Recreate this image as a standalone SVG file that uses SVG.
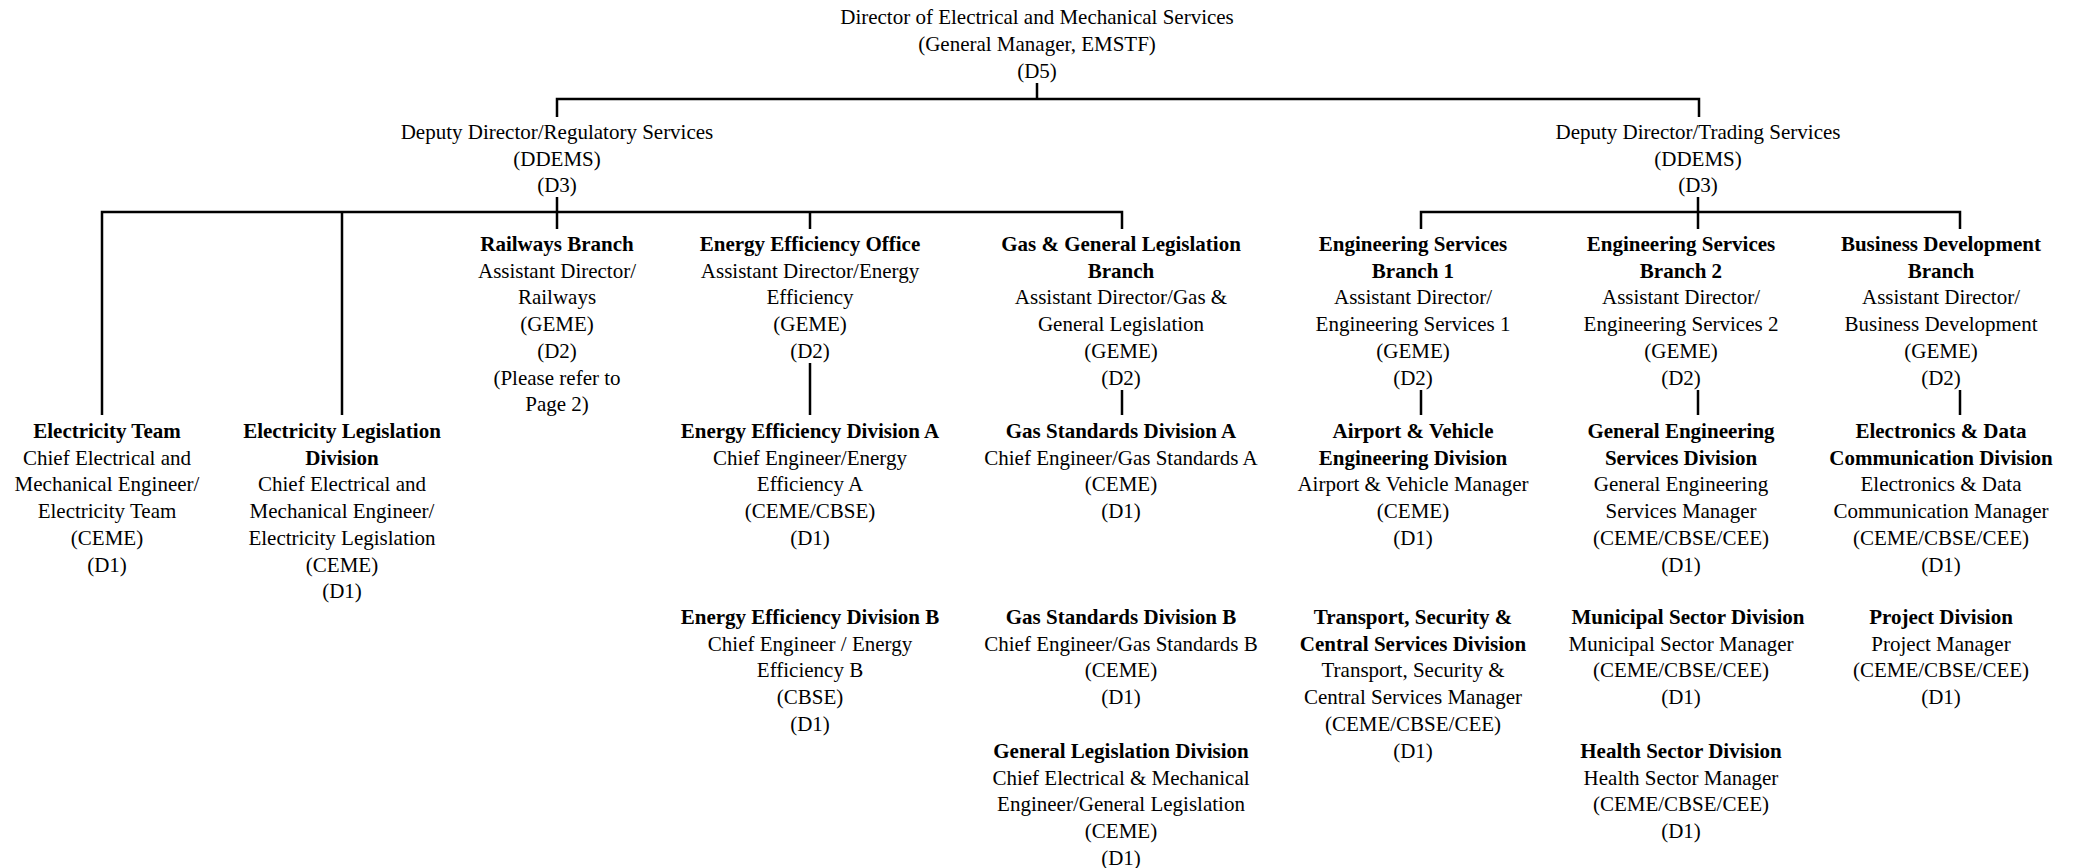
<svg xmlns="http://www.w3.org/2000/svg" width="2076" height="868" viewBox="0 0 2076 868">
<style>
text{font-family:"Liberation Serif","Times New Roman",serif;font-size:21px;fill:#000;text-anchor:middle}
.b{font-weight:bold}
.c{fill:none;stroke:#000;stroke-width:2.5}
</style>
<rect width="2076" height="868" fill="#fff"/>
<g id="connectors">
<path class="c" d="M1037 83V99M557 117V99H1699V117"/>
<path class="c" d="M557 197V212M102 415V212H1122V229M342 212V415M557 212V229M810 212V229"/>
<path class="c" d="M810 363V415M1122 390V415"/>
<path class="c" d="M1698 197V229M1421 229V212H1960V229"/>
<path class="c" d="M1421 390V415M1698 390V415M1960 390V415"/>
</g>
<g id="director"><text><tspan x="1037" y="24.3">Director of Electrical and Mechanical Services</tspan><tspan x="1037" y="51">(General Manager, EMSTF)</tspan><tspan x="1037" y="77.7">(D5)</tspan></text></g>
<g id="dd-regulatory"><text><tspan x="557" y="139">Deputy Director/Regulatory Services</tspan><tspan x="557" y="165.7">(DDEMS)</tspan><tspan x="557" y="192.4">(D3)</tspan></text></g>
<g id="dd-trading"><text><tspan x="1698" y="139">Deputy Director/Trading Services</tspan><tspan x="1698" y="165.7">(DDEMS)</tspan><tspan x="1698" y="192.4">(D3)</tspan></text></g>
<g id="railways"><text><tspan class="b" x="557" y="251">Railways Branch</tspan><tspan x="557" y="277.7">Assistant Director/</tspan><tspan x="557" y="304.4">Railways</tspan><tspan x="557" y="331.1">(GEME)</tspan><tspan x="557" y="357.8">(D2)</tspan><tspan x="557" y="384.5">(Please refer to</tspan><tspan x="557" y="411.2">Page 2)</tspan></text></g>
<g id="ee-office"><text><tspan class="b" x="810" y="251">Energy Efficiency Office</tspan><tspan x="810" y="277.7">Assistant Director/Energy</tspan><tspan x="810" y="304.4">Efficiency</tspan><tspan x="810" y="331.1">(GEME)</tspan><tspan x="810" y="357.8">(D2)</tspan></text></g>
<g id="gas-branch"><text><tspan class="b" x="1121" y="251">Gas &amp; General Legislation</tspan><tspan class="b" x="1121" y="277.7">Branch</tspan><tspan x="1121" y="304.4">Assistant Director/Gas &amp;</tspan><tspan x="1121" y="331.1">General Legislation</tspan><tspan x="1121" y="357.8">(GEME)</tspan><tspan x="1121" y="384.5">(D2)</tspan></text></g>
<g id="es1"><text><tspan class="b" x="1413" y="251">Engineering Services</tspan><tspan class="b" x="1413" y="277.7">Branch 1</tspan><tspan x="1413" y="304.4">Assistant Director/</tspan><tspan x="1413" y="331.1">Engineering Services 1</tspan><tspan x="1413" y="357.8">(GEME)</tspan><tspan x="1413" y="384.5">(D2)</tspan></text></g>
<g id="es2"><text><tspan class="b" x="1681" y="251">Engineering Services</tspan><tspan class="b" x="1681" y="277.7">Branch 2</tspan><tspan x="1681" y="304.4">Assistant Director/</tspan><tspan x="1681" y="331.1">Engineering Services 2</tspan><tspan x="1681" y="357.8">(GEME)</tspan><tspan x="1681" y="384.5">(D2)</tspan></text></g>
<g id="bd"><text><tspan class="b" x="1941" y="251">Business Development</tspan><tspan class="b" x="1941" y="277.7">Branch</tspan><tspan x="1941" y="304.4">Assistant Director/</tspan><tspan x="1941" y="331.1">Business Development</tspan><tspan x="1941" y="357.8">(GEME)</tspan><tspan x="1941" y="384.5">(D2)</tspan></text></g>
<g id="elec-team"><text><tspan class="b" x="107" y="438">Electricity Team</tspan><tspan x="107" y="464.7">Chief Electrical and</tspan><tspan x="107" y="491.4">Mechanical Engineer/</tspan><tspan x="107" y="518.1">Electricity Team</tspan><tspan x="107" y="544.8">(CEME)</tspan><tspan x="107" y="571.5">(D1)</tspan></text></g>
<g id="elec-leg"><text><tspan class="b" x="342" y="438">Electricity Legislation</tspan><tspan class="b" x="342" y="464.7">Division</tspan><tspan x="342" y="491.4">Chief Electrical and</tspan><tspan x="342" y="518.1">Mechanical Engineer/</tspan><tspan x="342" y="544.8">Electricity Legislation</tspan><tspan x="342" y="571.5">(CEME)</tspan><tspan x="342" y="598.2">(D1)</tspan></text></g>
<g id="ee-a"><text><tspan class="b" x="810" y="438">Energy Efficiency Division A</tspan><tspan x="810" y="464.7">Chief Engineer/Energy</tspan><tspan x="810" y="491.4">Efficiency A</tspan><tspan x="810" y="518.1">(CEME/CBSE)</tspan><tspan x="810" y="544.8">(D1)</tspan></text></g>
<g id="gas-a"><text><tspan class="b" x="1121" y="438">Gas Standards Division A</tspan><tspan x="1121" y="464.7">Chief Engineer/Gas Standards A</tspan><tspan x="1121" y="491.4">(CEME)</tspan><tspan x="1121" y="518.1">(D1)</tspan></text></g>
<g id="airport"><text><tspan class="b" x="1413" y="438">Airport &amp; Vehicle</tspan><tspan class="b" x="1413" y="464.7">Engineering Division</tspan><tspan x="1413" y="491.4">Airport &amp; Vehicle Manager</tspan><tspan x="1413" y="518.1">(CEME)</tspan><tspan x="1413" y="544.8">(D1)</tspan></text></g>
<g id="ges"><text><tspan class="b" x="1681" y="438">General Engineering</tspan><tspan class="b" x="1681" y="464.7">Services Division</tspan><tspan x="1681" y="491.4">General Engineering</tspan><tspan x="1681" y="518.1">Services Manager</tspan><tspan x="1681" y="544.8">(CEME/CBSE/CEE)</tspan><tspan x="1681" y="571.5">(D1)</tspan></text></g>
<g id="edc"><text><tspan class="b" x="1941" y="438">Electronics &amp; Data</tspan><tspan class="b" x="1941" y="464.7">Communication Division</tspan><tspan x="1941" y="491.4">Electronics &amp; Data</tspan><tspan x="1941" y="518.1">Communication Manager</tspan><tspan x="1941" y="544.8">(CEME/CBSE/CEE)</tspan><tspan x="1941" y="571.5">(D1)</tspan></text></g>
<g id="ee-b"><text><tspan class="b" x="810" y="624">Energy Efficiency Division B</tspan><tspan x="810" y="650.7">Chief Engineer / Energy</tspan><tspan x="810" y="677.4">Efficiency B</tspan><tspan x="810" y="704.1">(CBSE)</tspan><tspan x="810" y="730.8">(D1)</tspan></text></g>
<g id="gas-b"><text><tspan class="b" x="1121" y="624">Gas Standards Division B</tspan><tspan x="1121" y="650.7">Chief Engineer/Gas Standards B</tspan><tspan x="1121" y="677.4">(CEME)</tspan><tspan x="1121" y="704.1">(D1)</tspan></text></g>
<g id="transport"><text><tspan class="b" x="1413" y="624">Transport, Security &amp;</tspan><tspan class="b" x="1413" y="650.7">Central Services Division</tspan><tspan x="1413" y="677.4">Transport, Security &amp;</tspan><tspan x="1413" y="704.1">Central Services Manager</tspan><tspan x="1413" y="730.8">(CEME/CBSE/CEE)</tspan><tspan x="1413" y="757.5">(D1)</tspan></text></g>
<g id="municipal"><text><tspan class="b" x="1688" y="624">Municipal Sector Division</tspan><tspan x="1681" y="650.7">Municipal Sector Manager</tspan><tspan x="1681" y="677.4">(CEME/CBSE/CEE)</tspan><tspan x="1681" y="704.1">(D1)</tspan></text></g>
<g id="project"><text><tspan class="b" x="1941" y="624">Project Division</tspan><tspan x="1941" y="650.7">Project Manager</tspan><tspan x="1941" y="677.4">(CEME/CBSE/CEE)</tspan><tspan x="1941" y="704.1">(D1)</tspan></text></g>
<g id="gen-leg"><text><tspan class="b" x="1121" y="758">General Legislation Division</tspan><tspan x="1121" y="784.7">Chief Electrical &amp; Mechanical</tspan><tspan x="1121" y="811.4">Engineer/General Legislation</tspan><tspan x="1121" y="838.1">(CEME)</tspan><tspan x="1121" y="864.8">(D1)</tspan></text></g>
<g id="health"><text><tspan class="b" x="1681" y="758">Health Sector Division</tspan><tspan x="1681" y="784.7">Health Sector Manager</tspan><tspan x="1681" y="811.4">(CEME/CBSE/CEE)</tspan><tspan x="1681" y="838.1">(D1)</tspan></text></g>
</svg>
